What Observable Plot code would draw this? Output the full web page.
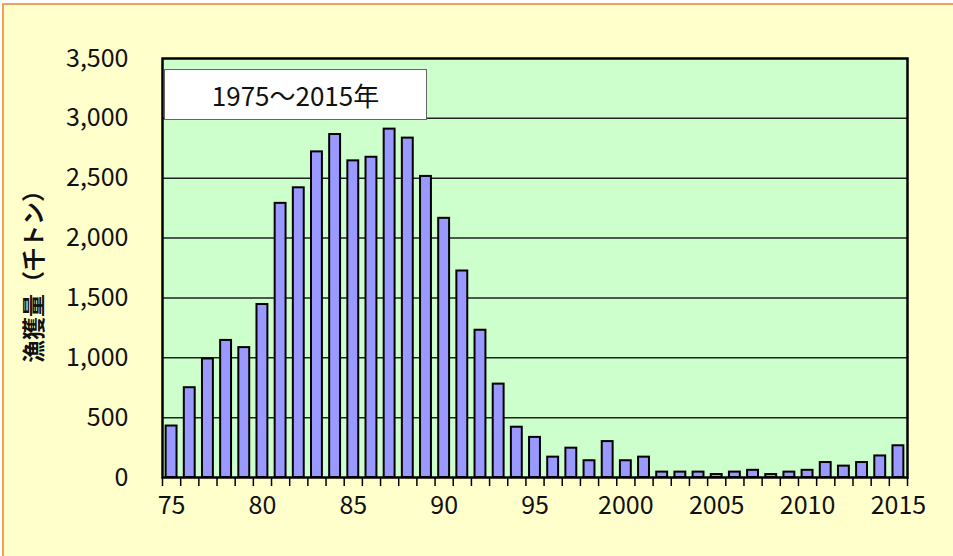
<!DOCTYPE html>
<html>
<head>
<meta charset="utf-8">
<script src="https://cdn.jsdelivr.net/npm/d3@7"></script>
<script src="https://cdn.jsdelivr.net/npm/@observablehq/plot@0.6"></script>
<style>
  html, body { margin: 0; padding: 0; background: #ffffff; }
  #wrap { position: relative; width: 953px; height: 556px; overflow: hidden; background: #ffffff; }
  #bg { position: absolute; left: 2px; top: 3px; width: 960px; height: 560px; background: #FFFFCC;
        border-top: 2px solid #F5A05A; border-left: 2px solid #F5A05A; }
  #chart { position: absolute; left: 0; top: 0; }
  #legend { position: absolute; left: 164px; top: 69px; width: 261px; height: 49px; background: #ffffff;
            border: 1px solid #666; font-family: "Noto Sans CJK JP", sans-serif; font-size: 26px;
            display: flex; align-items: center; justify-content: center; color: #111; }
  #ylabel { position: absolute; left: 32px; top: 271px; transform: translate(-50%, -50%) rotate(-90deg);
            white-space: nowrap; font-family: "Noto Sans CJK JP", sans-serif; font-size: 23px; font-weight: 600; color: #111; }
</style>
</head>
<body>
<div id="wrap">
  <div id="bg"></div>
  <div id="chart"></div>
  <div id="legend">1975〜2015年</div>
  <div id="ylabel">漁獲量（千トン）</div>
</div>
<script>
const years = [1975,1976,1977,1978,1979,1980,1981,1982,1983,1984,1985,1986,1987,1988,1989,1990,
  1991,1992,1993,1994,1995,1996,1997,1998,1999,2000,2001,2002,2003,2004,2005,2006,2007,2008,2009,2010,
  2011,2012,2013,2014,2015];
const catchKt = [430,750,990,1145,1085,1445,2290,2420,2720,2865,2645,2675,2910,2835,2515,2165,
  1725,1230,780,420,335,170,245,140,300,140,170,45,45,45,25,45,60,25,45,60,
  125,95,125,180,265];
const yTicks = [0,500,1000,1500,2000,2500,3000,3500];
const xLabelYears = [1975,1980,1985,1990,1995,2000,2005,2010,2015];

const data = years.map((y, i) => ({year: y, value: catchKt[i]}));
const boundaries = years.map(y => y - 0.5).concat([years[years.length - 1] + 0.5]);

const chart = Plot.plot({
  width: 953,
  height: 556,
  marginLeft: 162,
  marginRight: 46,
  marginTop: 58,
  marginBottom: 79,
  style: {background: "transparent", fontFamily: "'Noto Sans CJK JP', sans-serif", fontSize: "25px", color: "#111"},
  x: {type: "linear", domain: [1974.5, 2015.5]},
  y: {domain: [0, 3500]},
  marks: [
    Plot.frame({fill: "#CCFFCC", stroke: null}),
    Plot.ruleY(yTicks.filter(t => t > 0 && t < 3500), {stroke: "#222", strokeWidth: 1.5}),
    Plot.rectY(data, {x1: d => d.year - 0.3, x2: d => d.year + 0.3, y: "value",
      fill: "#9999FF", stroke: "#000", strokeWidth: 2}),
    Plot.frame({stroke: "#000", strokeWidth: 2.5}),
    Plot.axisY({ticks: yTicks, tickSize: 0, tickPadding: 34, tickFormat: d3.format(","), label: null, fontSize: 25}),
    Plot.axisX({ticks: boundaries, tickSize: 9, tickFormat: () => "", label: null, strokeWidth: 1.5, stroke: "#000"}),
    Plot.axisX({ticks: xLabelYears, tickSize: 0, tickPadding: 19, label: null, fontSize: 25,
      tickFormat: d => d < 2000 ? String(d % 100) : String(d)})
  ]
});
document.getElementById("chart").appendChild(chart);
</script>
</body>
</html>
